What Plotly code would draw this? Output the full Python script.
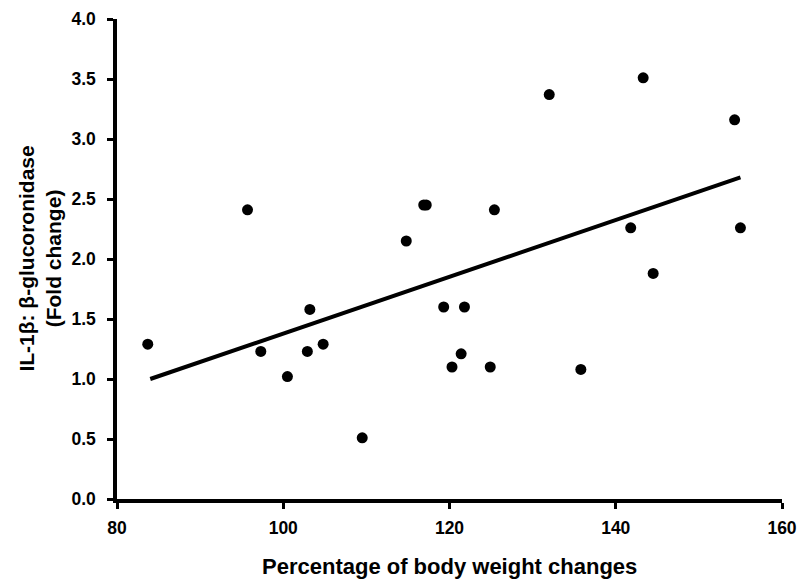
import plotly.graph_objects as go

# Data
weight_change = [83.7, 95.7, 97.3, 100.5, 102.9, 103.2, 104.8, 109.5, 114.8, 116.9,
                 117.2, 119.3, 120.3, 121.4, 121.8, 124.9, 125.4, 132.0, 135.8, 141.8,
                 143.3, 144.5, 154.3, 155.0]
fold_change = [1.29, 2.41, 1.23, 1.02, 1.23, 1.58, 1.29, 0.51, 2.15, 2.45,
               2.45, 1.60, 1.10, 1.21, 1.60, 1.10, 2.41, 3.37, 1.08, 2.26,
               3.51, 1.88, 3.16, 2.26]
trend_x = [84.0, 155.0]
trend_y = [1.00, 2.68]

x_ticks = [80, 100, 120, 140, 160]
y_ticks = [0.0, 0.5, 1.0, 1.5, 2.0, 2.5, 3.0, 3.5, 4.0]

FONT = "Liberation Sans, Arial, Helvetica, sans-serif"

fig = go.Figure()
fig.add_trace(go.Scatter(x=trend_x, y=trend_y, mode="lines",
                         line=dict(color="black", width=4), showlegend=False,
                         hoverinfo="skip"))
fig.add_trace(go.Scatter(x=weight_change, y=fold_change, mode="markers",
                         marker=dict(color="black", size=11, line=dict(width=0)),
                         showlegend=False))

W, H = 800, 582
ml, mr, mt, mb = 116.5, 17.5, 19, 83
pw, ph = W - ml - mr, H - mt - mb

def px_to_paper_x(px):
    return (px - ml) / pw

def px_to_paper_y(py):
    return (H - mb - py) / ph

fig.update_layout(
    template="none",
    width=W, height=H,
    margin=dict(l=ml, r=mr, t=mt, b=mb, pad=0, autoexpand=False),
    paper_bgcolor="white", plot_bgcolor="white",
    font=dict(family=FONT, color="black"),
    xaxis=dict(range=[80, 160], tickvals=x_ticks, ticktext=[f"<b>{v}</b>" for v in x_ticks],
               automargin=False,
               showgrid=False, zeroline=False, showline=True, linecolor="black",
               linewidth=3.5, ticks="outside", ticklen=6, tickwidth=2.5, tickcolor="black",
               tickfont=dict(family=FONT, size=17.5, color="black"),
               ticklabelstandoff=4),
    yaxis=dict(range=[0, 4], tickvals=y_ticks, ticktext=[f"<b>{v:.1f}</b>" for v in y_ticks],
               automargin=False,
               showgrid=False, zeroline=False, showline=True, linecolor="black",
               linewidth=3.5, ticks="outside", ticklen=6, tickwidth=2.5, tickcolor="black",
               tickfont=dict(family=FONT, size=17.5, color="black"),
               ticklabelstandoff=8),
    annotations=[
        dict(text="<b>Percentage of body weight changes</b>", xref="paper", yref="paper",
             x=px_to_paper_x(449.5), y=px_to_paper_y(566), xanchor="center", yanchor="middle",
             showarrow=False, font=dict(family=FONT, size=22, color="black")),
        dict(text="<b>IL-1β: β-glucoronidase</b><br><b>(Fold change)</b>", xref="paper", yref="paper",
             x=px_to_paper_x(39), y=px_to_paper_y(259), xanchor="center", yanchor="middle",
             textangle=-90, showarrow=False,
             font=dict(family=FONT, size=21, color="black")),
    ],
)

fig.write_html("out.html")
